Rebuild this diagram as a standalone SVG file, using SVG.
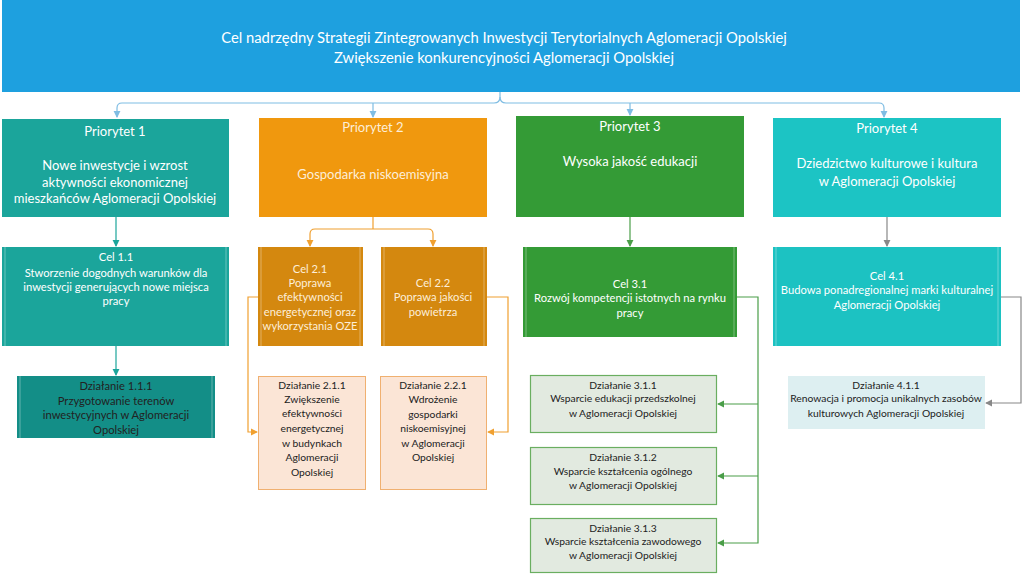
<svg xmlns="http://www.w3.org/2000/svg" width="1024" height="577" viewBox="0 0 1024 577">
<defs>
<style>
text{font-family:Lato,"Liberation Sans",sans-serif;text-anchor:middle;dominant-baseline:central}
.w{fill:#ffffff}
.cr{fill:#fdeed8}
.d{fill:#222222}
.t0{font-size:14.8px}
.t1{font-size:13px}
.t2{font-size:11.2px}
.t3{font-size:10.3px}
.c{fill:none;stroke-width:1.2}
.inner{stroke:#ffffff;stroke-opacity:0.35;stroke-width:1}
</style>
<marker id="ab" viewBox="0 0 8 8" refX="7" refY="4" markerWidth="6" markerHeight="6" orient="auto"><path d="M0,0L8,4L0,8z" fill="#7fbde3"/></marker>
<marker id="at" viewBox="0 0 8 8" refX="7" refY="4" markerWidth="6" markerHeight="6" orient="auto"><path d="M0,0L8,4L0,8z" fill="#1ba59b"/></marker>
<marker id="ao" viewBox="0 0 8 8" refX="7" refY="4" markerWidth="6" markerHeight="6" orient="auto"><path d="M0,0L8,4L0,8z" fill="#f0a030"/></marker>
<marker id="ag" viewBox="0 0 8 8" refX="7" refY="4" markerWidth="6" markerHeight="6" orient="auto"><path d="M0,0L8,4L0,8z" fill="#4a9e48"/></marker>
<marker id="ay" viewBox="0 0 8 8" refX="7" refY="4" markerWidth="6" markerHeight="6" orient="auto"><path d="M0,0L8,4L0,8z" fill="#888888"/></marker>
</defs>
<rect width="1024" height="577" fill="#ffffff"/>

<g id="connectors">
<path class="c" stroke="#7fbde3" d="M500,92 V97 Q500,103 494,103 H122 Q117,103 117,108 V117" marker-end="url(#ab)"/>
<path class="c" stroke="#7fbde3" d="M500,97 Q500,103 506,103 H879 Q884,103 884,108 V117" marker-end="url(#ab)"/>
<path class="c" stroke="#7fbde3" d="M373,103 Q373,106 373,108 V117" marker-end="url(#ab)"/>
<path class="c" stroke="#7fbde3" d="M630,103 V115" marker-end="url(#ab)"/>
<path class="c" stroke="#1ba59b" d="M116,217 V246" marker-end="url(#at)"/>
<path class="c" stroke="#1ba59b" d="M116,346 V375" marker-end="url(#at)"/>
<path class="c" stroke="#f0a030" d="M373,217 V229 M373,229 H315 Q310,229 310,234 V246" marker-end="url(#ao)"/>
<path class="c" stroke="#f0a030" d="M373,229 H428 Q433,229 433,234 V246" marker-end="url(#ao)"/>
<path class="c" stroke="#f0a030" d="M258,297 H248 V432 H257" marker-end="url(#ao)"/>
<path class="c" stroke="#f0a030" d="M487,297 H508 V432 H488" marker-end="url(#ao)"/>
<path class="c" stroke="#4a9e48" d="M630,217 V246" marker-end="url(#ag)"/>
<path class="c" stroke="#4a9e48" d="M737,297 H758 V543 H718" marker-end="url(#ag)"/>
<path class="c" stroke="#4a9e48" d="M758,404 H718" marker-end="url(#ag)"/>
<path class="c" stroke="#4a9e48" d="M758,476 H718" marker-end="url(#ag)"/>
<path class="c" stroke="#888888" d="M887,217 V246" marker-end="url(#ay)"/>
<path class="c" stroke="#888888" d="M1001,297 H1021 V403 H986" marker-end="url(#ay)"/>
</g>

<g id="cel-nadrzedny">
<rect x="2" y="0" width="1018" height="92" fill="#1ea0df"/>
<text class="w t0" x="504" y="37">Cel nadrzędny Strategii Zintegrowanych Inwestycji Terytorialnych Aglomeracji Opolskiej</text>
<text class="w t0" x="504" y="57">Zwiększenie konkurencyjności Aglomeracji Opolskiej</text>
</g>

<g id="priorytet1">
<rect x="2" y="119" width="227" height="98" fill="#1ba59b"/>
<text class="w t1" x="115" y="131">Priorytet 1</text>
<text class="w t1" x="115" y="165">Nowe inwestycje i wzrost</text>
<text class="w t1" x="115" y="182">aktywności ekonomicznej</text>
<text class="w t1" x="115" y="198">mieszkańców Aglomeracji Opolskiej</text>
</g>
<g id="priorytet2">
<rect x="259" y="118" width="228" height="99" fill="#f0980e"/>
<text class="cr t1" x="373" y="127">Priorytet 2</text>
<text class="cr t1" x="373" y="174">Gospodarka niskoemisyjna</text>
</g>
<g id="priorytet3">
<rect x="516" y="116" width="228" height="101" fill="#349b36"/>
<text class="w t1" x="630" y="126">Priorytet 3</text>
<text class="w t1" x="630" y="161">Wysoka jakość edukacji</text>
</g>
<g id="priorytet4">
<rect x="773" y="118" width="228" height="99" fill="#1cc4c4"/>
<text class="w t1" x="887" y="128">Priorytet 4</text>
<text class="w t1" x="887" y="163">Dziedzictwo kulturowe i kultura</text>
<text class="w t1" x="887" y="181">w Aglomeracji Opolskiej</text>
</g>

<g id="cel11">
<rect x="2" y="247" width="227" height="99" fill="#1ba59b"/>
<path class="inner" d="M5,247V346M226,247V346"/>
<text class="w t2" x="116" y="256">Cel 1.1</text>
<text class="w t2" x="116" y="272">Stworzenie dogodnych warunków dla</text>
<text class="w t2" x="116" y="286">inwestycji generujących nowe miejsca</text>
<text class="w t2" x="116" y="300">pracy</text>
</g>
<g id="cel21">
<rect x="258" y="247" width="105" height="99" fill="#d4880f"/>
<path class="inner" d="M261,247V346M360,247V346"/>
<text class="cr t2" x="310" y="268">Cel 2.1</text>
<text class="cr t2" x="310" y="282">Poprawa</text>
<text class="cr t2" x="310" y="296">efektywności</text>
<text class="cr t2" x="310" y="311">energetycznej oraz</text>
<text class="cr t2" x="310" y="325">wykorzystania OZE</text>
</g>
<g id="cel22">
<rect x="381" y="247" width="106" height="99" fill="#d4880f"/>
<path class="inner" d="M384,247V346M484,247V346"/>
<text class="cr t2" x="433" y="282">Cel 2.2</text>
<text class="cr t2" x="433" y="296">Poprawa jakości</text>
<text class="cr t2" x="433" y="311">powietrza</text>
</g>
<g id="cel31">
<rect x="523" y="247" width="214" height="90" fill="#349b36"/>
<path class="inner" d="M526,247V337M734,247V337"/>
<text class="w t2" x="630" y="283">Cel 3.1</text>
<text class="w t2" x="630" y="297">Rozwój kompetencji istotnych na rynku</text>
<text class="w t2" x="630" y="312">pracy</text>
</g>
<g id="cel41">
<rect x="773" y="247" width="228" height="99" fill="#1cc2c2"/>
<path class="inner" d="M776,247V346M998,247V346"/>
<text class="w t2" x="887" y="275">Cel 4.1</text>
<text class="w t2" x="887" y="289">Budowa ponadregionalnej marki kulturalnej</text>
<text class="w t2" x="887" y="304">Aglomeracji Opolskiej</text>
</g>

<g id="dzialanie111">
<rect x="17" y="376" width="198" height="62" fill="#138e87"/>
<path class="inner" d="M20,376V438M212,376V438"/>
<text class="d t2" x="116" y="385">Działanie 1.1.1</text>
<text class="d t2" x="116" y="400">Przygotowanie terenów</text>
<text class="d t2" x="116" y="414">inwestycyjnych w Aglomeracji</text>
<text class="d t2" x="116" y="429">Opolskiej</text>
</g>
<g id="dzialanie211">
<rect x="258.5" y="376.5" width="107" height="113" fill="#fbe5d6" stroke="#f0b070" stroke-width="1"/>
<text class="d t3" x="312" y="385">Działanie 2.1.1</text>
<text class="d t3" x="312" y="399">Zwiększenie</text>
<text class="d t3" x="312" y="413">efektywności</text>
<text class="d t3" x="312" y="428">energetycznej</text>
<text class="d t3" x="312" y="443">w budynkach</text>
<text class="d t3" x="312" y="457">Aglomeracji</text>
<text class="d t3" x="312" y="472">Opolskiej</text>
</g>
<g id="dzialanie221">
<rect x="380.5" y="376.5" width="106" height="113" fill="#fbe5d6" stroke="#f0b070" stroke-width="1"/>
<text class="d t3" x="433" y="385">Działanie 2.2.1</text>
<text class="d t3" x="433" y="399">Wdrożenie</text>
<text class="d t3" x="433" y="414">gospodarki</text>
<text class="d t3" x="433" y="428">niskoemisyjnej</text>
<text class="d t3" x="433" y="443">w Aglomeracji</text>
<text class="d t3" x="433" y="457">Opolskiej</text>
</g>
<g id="dzialanie311">
<rect x="530.5" y="375.5" width="186" height="57" fill="#e2eae0" stroke="#6aae60" stroke-width="1.2"/>
<text class="d t3" x="623" y="385">Działanie 3.1.1</text>
<text class="d t3" x="623" y="398">Wsparcie edukacji przedszkolnej</text>
<text class="d t3" x="623" y="413">w Aglomeracji Opolskiej</text>
</g>
<g id="dzialanie312">
<rect x="530.5" y="447.5" width="186" height="57" fill="#e2eae0" stroke="#6aae60" stroke-width="1.2"/>
<text class="d t3" x="623" y="457">Działanie 3.1.2</text>
<text class="d t3" x="623" y="471">Wsparcie kształcenia ogólnego</text>
<text class="d t3" x="623" y="485">w Aglomeracji Opolskiej</text>
</g>
<g id="dzialanie313">
<rect x="530.5" y="518.5" width="186" height="54" fill="#e2eae0" stroke="#6aae60" stroke-width="1.2"/>
<text class="d t3" x="623" y="528">Działanie 3.1.3</text>
<text class="d t3" x="623" y="541">Wsparcie kształcenia zawodowego</text>
<text class="d t3" x="623" y="555">w Aglomeracji Opolskiej</text>
</g>
<g id="dzialanie411">
<rect x="788" y="376" width="197" height="53" fill="#ddeff1"/>
<text class="d t3" x="886" y="385">Działanie 4.1.1</text>
<text class="d t3" x="886" y="398">Renowacja i promocja unikalnych zasobów</text>
<text class="d t3" x="886" y="413">kulturowych Aglomeracji Opolskiej</text>
</g>
</svg>
